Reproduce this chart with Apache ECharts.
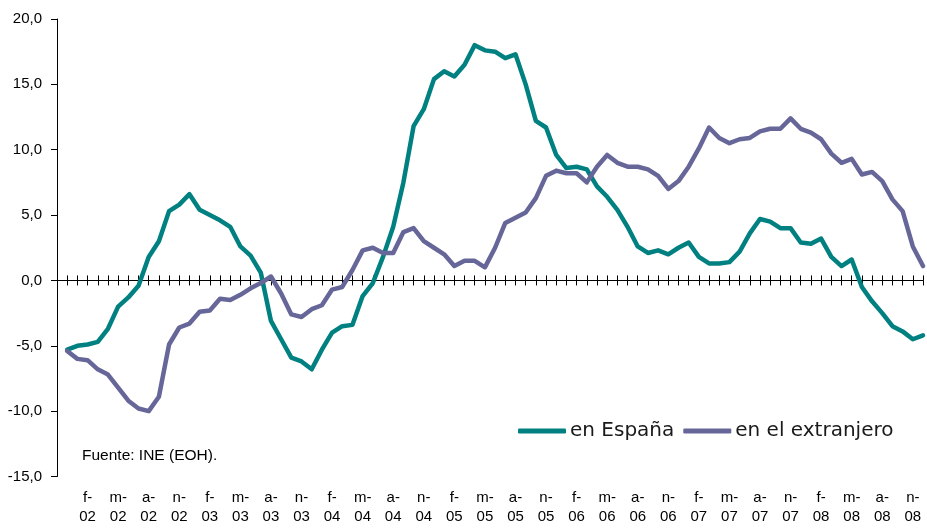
<!DOCTYPE html>
<html>
<head>
<meta charset="utf-8">
<script src="https://cdn.jsdelivr.net/npm/echarts@6/dist/echarts.min.js"></script>
<style>html,body{margin:0;padding:0;background:#fff;}#c{width:927px;height:528px;}</style>
</head>
<body>
<div id="c"></div>
<script>
// Month initials (Spanish) and the first category: Nov 2001 (index 0, empty), data Dec 2001 .. Dec 2008
const monthInitials = ['e','f','m','a','m','j','j','a','s','o','n','d'];
const startYear = 2001, startMonth = 10; // November 2001
const nCategories = 86;
const categories = [];
for (let i = 0; i < nCategories; i++) {
  const m = (startMonth + i) % 12;
  const y = startYear + Math.floor((startMonth + i) / 12);
  categories.push(monthInitials[m] + '-' + String(y % 100).padStart(2, '0'));
}

const enEspana = [null,
  -5.3, -5.0, -4.9, -4.7, -3.7, -2.0, -1.3, -0.4, 1.8, 3.0,
  5.3, 5.8, 6.6, 5.4, 5.0, 4.6, 4.1, 2.6, 1.9, 0.6,
  -3.1, -4.5, -5.9, -6.2, -6.8, -5.3, -4.0, -3.5, -3.4, -1.2,
  -0.2, 1.8, 4.1, 7.5, 11.8, 13.1, 15.4, 16.0, 15.6, 16.5,
  18.0, 17.6, 17.5, 17.0, 17.3, 15.0, 12.2, 11.7, 9.6, 8.6,
  8.7, 8.5, 7.2, 6.4, 5.4, 4.1, 2.6, 2.1, 2.3, 2.0,
  2.5, 2.9, 1.8, 1.3, 1.3, 1.4, 2.2, 3.6, 4.7, 4.5,
  4.0, 4.0, 2.9, 2.8, 3.2, 1.8, 1.1, 1.6, -0.5, -1.6,
  -2.5, -3.5, -3.9, -4.5, -4.2];

const enExtranjero = [null,
  -5.4, -6.0, -6.1, -6.8, -7.2, -8.2, -9.2, -9.8, -10.0, -8.9,
  -4.9, -3.6, -3.3, -2.4, -2.3, -1.4, -1.5, -1.1, -0.6, -0.2,
  0.3, -1.0, -2.6, -2.8, -2.2, -1.9, -0.7, -0.5, 0.8, 2.3,
  2.5, 2.1, 2.1, 3.7, 4.0, 3.0, 2.5, 2.0, 1.1, 1.5,
  1.5, 1.0, 2.5, 4.4, 4.8, 5.2, 6.3, 8.0, 8.4, 8.2,
  8.2, 7.5, 8.7, 9.6, 9.0, 8.7, 8.7, 8.5, 8.0, 7.0,
  7.6, 8.7, 10.1, 11.7, 10.9, 10.5, 10.8, 10.9, 11.4, 11.6,
  11.6, 12.4, 11.6, 11.3, 10.8, 9.7, 9.0, 9.3, 8.1, 8.3,
  7.6, 6.2, 5.3, 2.6, 1.1];

const yTicks = { min: -15, max: 20, interval: 5 };
const seriesNames = ['en España', 'en el extranjero'];
const sourceText = 'Fuente: INE (EOH).';

const chart = echarts.init(document.getElementById('c'), null, { renderer: 'canvas' });
const baseFont = 'Liberation Sans, Arial, sans-serif';
chart.setOption({
  animation: false,
  backgroundColor: '#ffffff',
  grid: { left: 57, right: 4, top: 19, bottom: 51.5, containLabel: false },
  legend: {
    data: seriesNames,
    left: 518, top: 421, padding: 0,
    itemWidth: 48, itemHeight: 5, itemGap: 9,
    icon: 'roundRect',
    textStyle: { fontFamily: 'DejaVu Sans, sans-serif', fontSize: 20, color: '#1a1a1a', padding: [0, 0, 0, -1] }
  },
  graphic: [{
    type: 'text', left: 82, top: 448,
    style: { text: sourceText, font: '15.5px ' + baseFont, fill: '#000' }
  }],
  xAxis: [
    {
      type: 'category', data: categories, boundaryGap: false, position: 'bottom',
      axisLine: { onZero: true, onZeroAxisIndex: 0, lineStyle: { color: '#000', width: 1 } },
      axisTick: { show: true, interval: 0, length: 5, inside: false, lineStyle: { color: '#000' } },
      axisLabel: { show: false }, splitLine: { show: false }
    },
    {
      type: 'category', data: categories, boundaryGap: false, position: 'bottom',
      axisLine: { onZero: true, onZeroAxisIndex: 0, lineStyle: { color: '#000', width: 1 } },
      axisTick: { show: true, interval: 0, length: 5, inside: true, lineStyle: { color: '#000' } },
      axisLabel: { show: false }, splitLine: { show: false }
    },
    {
      type: 'category', data: categories, boundaryGap: false, position: 'bottom',
      axisLine: { show: false, onZero: false }, axisTick: { show: false },
      axisLabel: {
        show: true, margin: 12,
        interval: function (index) { return index > 0 && index % 3 === 0; },
        formatter: function (v) { const p = v.split('-'); return p[0] + '-\n' + p[1]; },
        fontFamily: baseFont, fontSize: 15, lineHeight: 19, color: '#000'
      },
      splitLine: { show: false }
    }
  ],
  yAxis: {
    type: 'value', min: yTicks.min, max: yTicks.max, interval: yTicks.interval,
    axisLine: { show: true, lineStyle: { color: '#000', width: 1 } },
    axisTick: { show: true, length: 6, lineStyle: { color: '#000' } },
    axisLabel: {
      margin: 15, fontFamily: baseFont, fontSize: 15, color: '#000',
      formatter: function (v) { return v.toFixed(1).replace('.', ','); }
    },
    splitLine: { show: false }
  },
  series: [
    {
      name: seriesNames[0], type: 'line', data: enEspana, xAxisIndex: 0,
      showSymbol: false, symbol: 'none', smooth: false, connectNulls: false,
      lineStyle: { color: '#008080', width: 4.5, cap: 'round', join: 'round' },
      itemStyle: { color: '#008080' }
    },
    {
      name: seriesNames[1], type: 'line', data: enExtranjero, xAxisIndex: 0,
      showSymbol: false, symbol: 'none', smooth: false, connectNulls: false,
      lineStyle: { color: '#666699', width: 4.5, cap: 'round', join: 'round' },
      itemStyle: { color: '#666699' }
    }
  ]
});
</script>
</body>
</html>
